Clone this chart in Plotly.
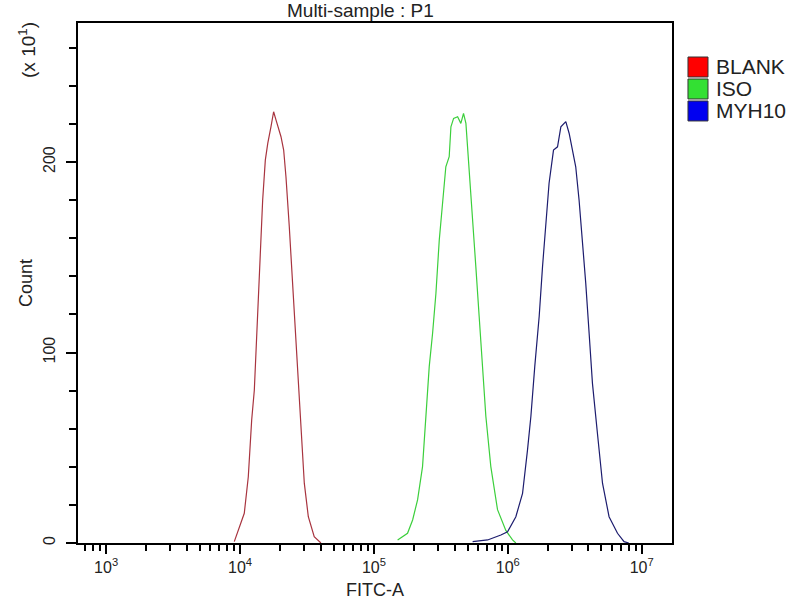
import plotly.graph_objects as go

# histogram outlines (FITC-A value, count in units of 10)
blank_fitc = [9060, 10760, 11530, 12220, 12790, 13150, 13550, 14160, 14760, 15450,
              16110, 17020, 17820, 18580, 20230, 21180, 22030, 23330, 24720, 26180,
              27230, 28510, 30200, 32360, 35810, 40180]
blank_count = [0.7, 15.6, 34.8, 64.6, 80.3, 101.3, 124.0, 157.2, 180.1, 201.0,
               209.8, 218.5, 226.4, 222.0, 213.3, 206.3, 192.3, 166.0, 134.5, 110.0,
               83.8, 57.6, 31.4, 13.8, 3.3, 0]

iso_fitc = [150300, 178200, 194500, 211800, 230700, 244300, 258800, 274200, 290400,
            307600, 325800, 344300, 364800, 375800, 393600, 421700, 445700, 466700,
            486400, 514000, 545800, 576800, 610900, 647100, 685500, 746400, 837500,
            966100, 1084000, 1148000]
iso_count = [1.6, 5.1, 12.1, 22.6, 40.1, 64.6, 92.6, 110.1, 131.1,
             159.1, 180.1, 197.5, 202.8, 218.5, 222.9, 223.8, 220.3, 225.5,
             220.3, 197.5, 171.3, 145.1, 118.9, 92.6, 66.4, 40.1, 17.5,
             6.6, 1.6, 0]

myh10_fitc = [545800, 706300, 887200, 995400, 1148000, 1288000, 1403000, 1486000,
              1589000, 1714000, 1816000, 1923000, 2032000, 2193000, 2350000, 2489000,
              2710000, 2871000, 3041000, 3214000, 3404000, 3614000, 3819000, 4046000,
              4285000, 4667000, 5093000, 5702000, 6592000, 7379000, 7998000]
myh10_count = [0.7, 1.6, 4.2, 5.9, 13.8, 26.1, 48.9, 66.4,
               92.6, 118.9, 145.1, 166.1, 188.9, 206.3, 208.0, 218.5,
               221.2, 215.0, 206.3, 197.5, 180.1, 159.1, 136.3, 110.1,
               83.8, 57.6, 31.4, 13.8, 5.1, 0.7, 0]

names = ["BLANK", "ISO", "MYH10"]
line_colors = ["#a8343f", "#3ccf3c", "#1c1c6e"]
box_colors = ["#ff0000", "#33e033", "#0000f0"]
x_ticks = [1e3, 1e4, 1e5, 1e6, 1e7]
x_tick_text = ["10<sup>3</sup>", "10<sup>4</sup>", "10<sup>5</sup>", "10<sup>6</sup>", "10<sup>7</sup>"]

fig = go.Figure()
series = [(blank_fitc, blank_count), (iso_fitc, iso_count), (myh10_fitc, myh10_count)]
for (xs, ys), name, lc in zip(series, names, line_colors):
    fig.add_trace(go.Scatter(x=xs, y=ys, mode="lines", name=name,
                             line=dict(color=lc, width=1.2), showlegend=False))

# legend: coloured boxes with labels to the right of the plot
for i, (name, bc) in enumerate(zip(names, box_colors)):
    yc = 0.9154 - i * 0.0423
    fig.add_shape(type="rect", xref="paper", yref="paper", x0=1.0269, x1=1.0606,
                  y0=yc - 0.0192, y1=yc + 0.0192, fillcolor=bc,
                  line=dict(color="#333333", width=1))
    fig.add_annotation(text=name, xref="paper", yref="paper", x=1.0700, y=yc,
                       xanchor="left", yanchor="middle", showarrow=False,
                       font=dict(size=21, color="#222222"))

font = "Liberation Sans, Arial, sans-serif"
fig.update_layout(
    width=800, height=600,
    margin=dict(l=78, r=128, t=23, b=57, autoexpand=False),
    paper_bgcolor="white", plot_bgcolor="white",
    font=dict(family=font, size=18, color="#222222"),
    showlegend=False,
)
fig.update_xaxes(type="log", range=[2.79, 7.226], tickvals=x_ticks, ticktext=x_tick_text,
                 ticks="outside", ticklen=9, tickwidth=1.5, tickcolor="black",
                 minor=dict(ticks="outside", dtick="D1", ticklen=6, tickwidth=1.5, tickcolor="black"),
                 showline=True, linecolor="black", linewidth=2, mirror=True, automargin=False,
                 showgrid=False, zeroline=False, tickfont=dict(size=16))
fig.update_yaxes(range=[0, 273], tickvals=[0, 100, 200], ticktext=["0", "100", "200"],
                 ticks="outside", ticklen=10, tickwidth=1.5, tickcolor="black", tickangle=-90,
                 ticklabelstandoff=5,
                 minor=dict(ticks="outside", dtick=20, tick0=0, ticklen=7, tickwidth=1.5, tickcolor="black"),
                 showline=True, linecolor="black", linewidth=2, mirror=True, automargin=False,
                 showgrid=False, zeroline=False, tickfont=dict(size=16),
                 title=dict(text="Count", font=dict(size=18), standoff=3))
fig.add_annotation(text="Multi-sample : P1", xref="paper", yref="paper", x=0.4764, y=1,
                   xanchor="center", yanchor="bottom", yshift=0, showarrow=False,
                   font=dict(size=19, color="#222222"))
fig.add_annotation(text="FITC-A", xref="paper", yref="paper", x=0.5, y=0,
                   xanchor="center", yanchor="top", yshift=-35, showarrow=False,
                   font=dict(size=18, color="#222222"))
fig.add_annotation(text="(x 10<sup>1</sup>)", xref="paper", yref="paper", x=-0.086, y=0.948,
                   xanchor="center", yanchor="middle",
                   textangle=-90, showarrow=False, font=dict(size=19, color="#222222"))

# drop the default page margin so the 800x600 figure fills the window
fig.write_html("out.html", config={"displayModeBar": False},
               post_script="document.body.style.margin = '0px';")
